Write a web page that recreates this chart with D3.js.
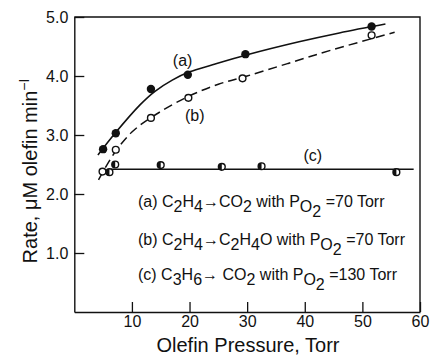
<!DOCTYPE html>
<html lang="en">
<head>
<meta charset="UTF-8">
<title>olefin rate</title>
<style>
  body { margin: 0; overflow: hidden; background: #fff; }
  text { font-family: "Liberation Sans", Arial, sans-serif; fill: #111; }
</style>
</head>
<body>
<script src="https://cdnjs.cloudflare.com/ajax/libs/d3/7.8.2/d3.min.js"></script>
<script>
// measured points
const aPts = [[5.0, 2.76], [7.2, 3.03], [13.3, 3.78], [19.7, 4.02], [29.7, 4.37], [51.6, 4.84]]
const bPts = [[4.9, 2.38], [7.2, 2.75], [13.3, 3.29], [19.8, 3.63], [29.2, 3.96], [51.6, 4.69]]
const cPts = [[6.1, 2.37], [7.1, 2.5], [15.0, 2.49], [25.6, 2.46], [32.5, 2.47], [55.9, 2.37]]

// drawn curves
const aCurve = [[4.1, 2.66], [7, 3.02], [11.4, 3.51], [14, 3.74], [17, 3.93], [20, 4.07], [24, 4.19], [30, 4.36], [39, 4.58], [46, 4.73], [54, 4.88]]
const bCurve = [[4.2, 2.24], [7, 2.7], [10, 3.05], [13.4, 3.3], [19.5, 3.64], [25, 3.86], [30, 4.0], [37, 4.21], [45, 4.45], [55.6, 4.74]]
const cLine = [[6.3, 2.42], [58.9, 2.42]]

const xTicks = [10, 20, 30, 40, 50, 60]
const yTicks = [1, 2, 3, 4, 5]

const W = 433, H = 355
const svg = d3.select('body').append('svg').attr('width', W).attr('height', H)

const x = d3.scaleLinear().domain([0, 60]).range([74.3, 420])
const y = d3.scaleLinear().domain([0, 5]).range([312, 17])

// frame
svg.append('path')
  .attr('d', `M${x(0)},${y(5)}H${x(60)}V${y(0)}`)
  .attr('fill', 'none').attr('stroke', '#111').attr('stroke-width', 1.4)

const gy = svg.append('g').attr('transform', `translate(${x(0)},0)`)
  .call(d3.axisLeft(y).tickValues(yTicks).tickSizeInner(-10).tickSizeOuter(0)
    .tickPadding(6).tickFormat(d3.format('.1f')))
const gx = svg.append('g').attr('transform', `translate(0,${y(0)})`)
  .call(d3.axisBottom(x).tickValues(xTicks).tickSizeInner(-10).tickSizeOuter(0).tickPadding(4))

;[gx, gy].forEach(g => {
  g.select('.domain').attr('stroke', '#111').attr('stroke-width', 1.4)
  g.selectAll('.tick line').attr('stroke', '#111').attr('stroke-width', 1.3)
  g.selectAll('.tick text').attr('font-size', 16).attr('font-family', '"Liberation Sans", Arial, sans-serif').attr('fill', '#111')
})

const line = d3.line().x(d => x(d[0])).y(d => y(d[1])).curve(d3.curveCatmullRom)

svg.append('path').datum(aCurve).attr('d', line)
  .attr('fill', 'none').attr('stroke', '#111').attr('stroke-width', 1.6)
svg.append('path').datum(bCurve).attr('d', line)
  .attr('fill', 'none').attr('stroke', '#111').attr('stroke-width', 1.5).attr('stroke-dasharray', '9,5')
svg.append('path').datum(cLine).attr('d', d3.line().x(d => x(d[0])).y(d => y(d[1])))
  .attr('fill', 'none').attr('stroke', '#111').attr('stroke-width', 1.6)

svg.append('g').selectAll('circle').data(aPts).join('circle')
  .attr('cx', d => x(d[0])).attr('cy', d => y(d[1])).attr('r', 4.2).attr('fill', '#111')
svg.append('g').selectAll('circle').data(bPts).join('circle')
  .attr('cx', d => x(d[0])).attr('cy', d => y(d[1])).attr('r', 3.4)
  .attr('fill', '#fff').attr('stroke', '#111').attr('stroke-width', 1.4)
const cg = svg.append('g').selectAll('g').data(cPts).join('g')
  .attr('transform', d => `translate(${x(d[0])},${y(d[1])})`)
cg.append('circle').attr('r', 3.4).attr('fill', '#fff').attr('stroke', '#111').attr('stroke-width', 1.4)
cg.append('path').attr('d', d3.arc()({ innerRadius: 0, outerRadius: 3.4, startAngle: Math.PI, endAngle: 2 * Math.PI }))
  .attr('fill', '#111')

// curve labels
const lab = [['(a)', 18.8, 4.17], ['(b)', 20.9, 3.24], ['(c)', 41.4, 2.56]]
svg.append('g').selectAll('text').data(lab).join('text')
  .attr('x', d => x(d[1])).attr('y', d => y(d[2])).attr('text-anchor', 'middle')
  .attr('font-size', 16).text(d => d[0])

// legend lines, with subscripts
const legend = [
  { y: 207, len: 247, parts: [['(a) C', 0], ['2', 1], ['H', 0], ['4', 1], ['\u2192CO', 0], ['2', 1], [' with P', 0], ['O', 1], ['2', 2], [' =70 Torr', 0]] },
  { y: 245, len: 269, parts: [['(b) C', 0], ['2', 1], ['H', 0], ['4', 1], ['\u2192C', 0], ['2', 1], ['H', 0], ['4', 1], ['O  with P', 0], ['O', 1], ['2', 2], [' =70 Torr', 0]] },
  { y: 280, len: 262, parts: [['(c) C', 0], ['3', 1], ['H', 0], ['6', 1], ['\u2192 CO', 0], ['2', 1], [' with P', 0], ['O', 1], ['2', 2], [' =130 Torr', 0]] }
]
const lg = svg.append('g').selectAll('text').data(legend).join('text')
  .attr('x', 138).attr('y', d => d.y).attr('font-size', 16)
lg.selectAll('tspan').data(d => {
  let prev = 0
  return d.parts.map(p => { const dy = (p[1] - prev) * 5; prev = p[1]; return { t: p[0], dy } })
}).join('tspan').attr('dy', d => d.dy).text(d => d.t)

// axis titles
svg.append('text').attr('x', 248).attr('y', 352).attr('text-anchor', 'middle')
  .attr('font-size', 20).text('Olefin Pressure, Torr')
const yl = svg.append('text').attr('transform', 'translate(37,171) rotate(-90)')
  .attr('text-anchor', 'middle').attr('font-size', 20)
yl.append('tspan').text('Rate, \u03bcM olefin min')
yl.append('tspan').attr('dy', -8).attr('font-size', 14).text('\u2212I')
</script>
</body>
</html>
